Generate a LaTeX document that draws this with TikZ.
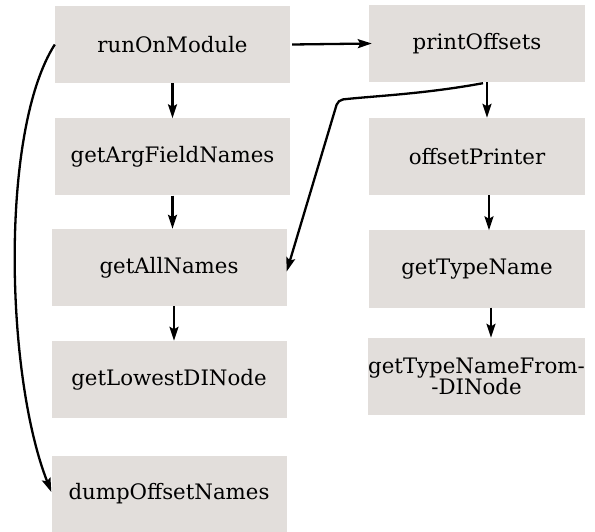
\documentclass[tikz,border=0pt]{standalone}
\usepackage{fontspec}
\setmainfont{DejaVu Serif}
\usetikzlibrary{arrows.meta}
\definecolor{boxfill}{HTML}{E2DEDB}
\begin{document}
\begin{tikzpicture}[x=1pt,y=-1pt,
  fn/.style={fill=boxfill,draw=none,minimum width=235pt,minimum height=77pt,inner sep=0pt,align=center,font=\fontsize{21.3}{21}\selectfont},
  fnr/.style={fn,minimum width=216pt},
  edge/.style={line width=2.3pt,-{Stealth[length=14pt,width=9pt,inset=2.5pt]}}]
\useasboundingbox (0,0) rectangle (595,532);
\node[fn] (run) at (172.5,44.5) {runOnModule};
\node[fn] (arg) at (172.5,157) {getArgFieldNames};
\node[fn] (all) at (169,267.5) {getAllNames};
\node[fn] (low) at (169,379.5) {getLowestDINode};
\node[fn,minimum height=76pt] (dump) at (169,494) {dumpOffsetNames};
\node[fnr] (print) at (477,43.5) {printOffsets};
\node[fnr] (off) at (477,156.5) {offsetPrinter};
\node[fnr] (type) at (477,269) {getTypeName};
\node[fnr,minimum width=217pt] (from) at (476.5,376.5) {getTypeNameFrom-\\-DINode};
\coordinate (bend) at (338,100);
\draw[edge] ([xshift=2pt]run.east) -- ([xshift=3pt]print.west);
\draw[edge] (run.south) -- (run.south |- arg.north);
\draw[edge] (arg.south) -- (arg.south |- all.north);
\draw[edge] ([xshift=5pt]all.south) -- ([xshift=5pt]all.south |- low.north);
\draw[edge] ([xshift=10pt]print.south) -- ([xshift=10pt]print.south |- off.north);
\draw[edge] ([xshift=12pt]off.south) -- ([xshift=12pt]off.south |- type.north);
\draw[edge] ([xshift=14pt]type.south) -- ([xshift=14pt]type.south |- from.north);
\draw[edge,rounded corners=5pt] ([xshift=6pt,yshift=-1pt]print.south) .. controls +(-60,11) and +(35,-4) .. (bend) -- ([yshift=-4pt]all.east);
\draw[edge] (run.west) .. controls +(-55,86) and +(-46,-117) .. ([yshift=2pt]dump.west);
\end{tikzpicture}
\end{document}
